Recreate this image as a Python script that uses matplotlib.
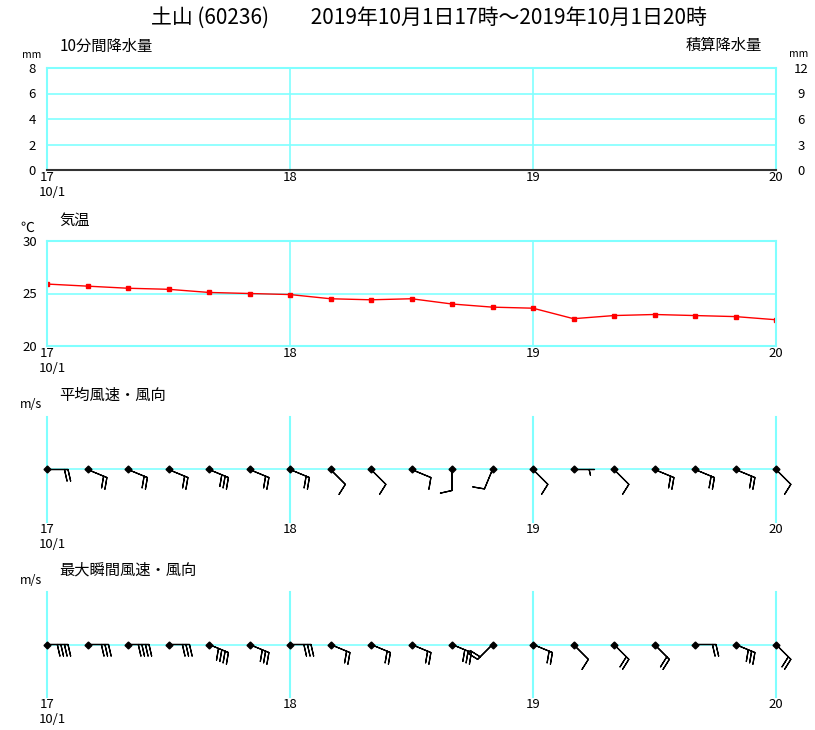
import numpy as np
import matplotlib.pyplot as plt

plt.rcParams['font.family'] = ['Noto Sans CJK JP', 'DejaVu Sans']

title = '土山 (60236)　　2019年10月1日17時～2019年10月1日20時'
times = ['17:00', '17:10', '17:20', '17:30', '17:40', '17:50',
         '18:00', '18:10', '18:20', '18:30', '18:40', '18:50',
         '19:00', '19:10', '19:20', '19:30', '19:40', '19:50', '20:00']
hours = [17, 18, 19, 20]
hour_labels = ['17', '18', '19', '20']
date_label = '10/1'

precip_10min = [0, 0, 0, 0, 0, 0, 0, 0, 0, 0, 0, 0, 0, 0, 0, 0, 0, 0, 0]
precip_cum = [0, 0, 0, 0, 0, 0, 0, 0, 0, 0, 0, 0, 0, 0, 0, 0, 0, 0, 0]
temp = [25.9, 25.7, 25.5, 25.4, 25.1, 25.0, 24.9, 24.5, 24.4, 24.5,
        24.0, 23.7, 23.6, 22.6, 22.9, 23.0, 22.9, 22.8, 22.5]
mean_dir = ['E', 'ESE', 'ESE', 'ESE', 'ESE', 'ESE', 'ESE', 'SE', 'SE', 'ESE',
            'S', 'SSW', 'SE', 'E', 'SE', 'ESE', 'ESE', 'ESE', 'SE']
mean_spd = [2, 2, 2, 2, 3, 2, 2, 1, 1, 1, 1, 1, 1, 0.5, 1, 2, 2, 2, 1]
gust_dir = ['E', 'E', 'E', 'E', 'ESE', 'ESE', 'E', 'ESE', 'ESE', 'ESE',
            'ESE', 'SW', 'ESE', 'SE', 'SE', 'SE', 'E', 'ESE', 'SE']
gust_spd = [4, 3, 4, 3, 4, 3, 3, 2, 2, 2, 3, 2, 2, 1, 2, 2, 2, 3, 2]

compass = ['N', 'NNE', 'NE', 'ENE', 'E', 'ESE', 'SE', 'SSE',
           'S', 'SSW', 'SW', 'WSW', 'W', 'WNW', 'NW', 'NNW']

CYAN = '#80ffff'
W, H = 815, 730

t = np.array([int(s[:2]) + int(s[3:]) / 60 for s in times])


def to_uv(dirs, spd):
    deg = np.array([compass.index(d) * 22.5 for d in dirs])
    spd = np.array(spd, dtype=float)
    rad = np.deg2rad(deg)
    return -spd * np.sin(rad), -spd * np.cos(rad)


fig = plt.figure(figsize=(W / 100, H / 100), dpi=100)


def px_axes(top, bottom, left=47, right=776):
    return fig.add_axes([left / W, 1 - bottom / H, (right - left) / W, (bottom - top) / H])


def ftext(x, y, s, **kw):
    kw.setdefault('va', 'center')
    fig.text(x / W, 1 - y / H, s, **kw)


def hour_axis(ax):
    ax.set_xlim(17, 20)
    ax.set_xticks(hours, hour_labels, fontsize=9.5)
    ax.tick_params(axis='x', length=0, pad=1)
    ax.annotate(date_label, xy=(17, 0), xycoords=('data', 'axes fraction'),
                xytext=(-6, -11.5), textcoords='offset points',
                ha='left', va='top', fontsize=9.5)


ftext(429, 18, title, ha='center', fontsize=15)

# precipitation
ax1 = px_axes(68, 170)
ax1.bar(t, precip_10min, width=1 / 6, align='edge', color='blue')
hour_axis(ax1)
ax1.set_ylim(0, 8)
ax1.set_yticks([0, 2, 4, 6, 8])
ax1.tick_params(axis='y', length=0, pad=8, labelsize=9.5)
ax1.grid(color=CYAN, lw=1.2)
for s in ax1.spines.values():
    s.set_color(CYAN)
    s.set_linewidth(1.5)
ax1.spines['bottom'].set_color('#333333')
ax1r = ax1.twinx()
ax1r.plot(t, precip_cum, color='#333333', lw=1)
ax1r.set_ylim(0, 12)
ax1r.set_yticks([0, 3, 6, 9, 12])
ax1r.tick_params(axis='y', length=0, pad=18, labelsize=9.5)
for lab in ax1r.get_yticklabels():
    lab.set_horizontalalignment('center')
for s in ax1r.spines.values():
    s.set_visible(False)
ftext(60, 46, '10分間降水量', fontsize=11)
ftext(22, 55, 'mm', fontsize=7.5)
ftext(762, 45, '積算降水量', ha='right', fontsize=11)
ftext(789, 54, 'mm', fontsize=7.5)

# temperature
ax2 = px_axes(241, 346)
ax2.plot(t, temp, color='red', lw=1, marker='s', ms=3.2)
hour_axis(ax2)
ax2.set_ylim(20, 30)
ax2.set_yticks([20, 25, 30])
ax2.tick_params(axis='y', length=0, pad=7, labelsize=9.5)
ax2.grid(color=CYAN, lw=1.2)
for s in ax2.spines.values():
    s.set_color(CYAN)
    s.set_linewidth(1.5)
ftext(59, 220, '気温', fontsize=11)
ftext(20, 228, '℃', fontsize=10)

# wind panels
for top, bottom, label, dirs, spd in [(417, 522, '平均風速・風向', mean_dir, mean_spd),
                                      (592, 697, '最大瞬間風速・風向', gust_dir, gust_spd)]:
    ax = px_axes(top, bottom)
    hour_axis(ax)
    ax.set_ylim(-1, 1)
    ax.set_yticks([])
    for s in ax.spines.values():
        s.set_visible(False)
    ax.axhline(0, color=CYAN, lw=1.2, zorder=1)
    for h in hours:
        ax.axvline(h, color=CYAN, lw=1.5, zorder=1, clip_on=False)
    u, v = to_uv(dirs, spd)
    ax.barbs(t, np.zeros_like(t), u, v, length=5.5, linewidth=0.9, color='black',
             barb_increments=dict(half=0.5, full=1, flag=10),
             sizes=dict(spacing=0.17, height=0.55),
             zorder=3, clip_on=False)
    ax.plot(t, np.zeros_like(t), 'D', color='black', ms=3.5, zorder=4, clip_on=False)
    ftext(59, top - 22, label, fontsize=11)
    ftext(20, top - 12, 'm/s', fontsize=9)

fig.savefig('out.png', dpi=100)
